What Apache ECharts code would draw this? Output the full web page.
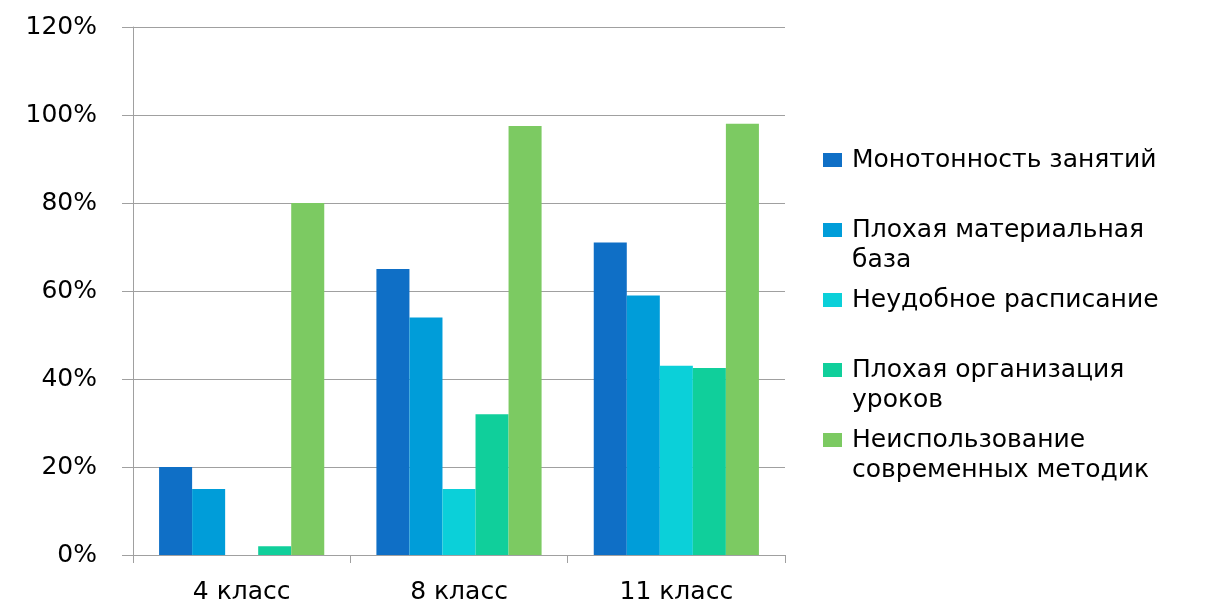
<!DOCTYPE html>
<html>
<head>
<meta charset="utf-8">
<script src="https://cdn.jsdelivr.net/npm/echarts@6/dist/echarts.min.js"></script>
<style>
html, body { margin: 0; padding: 0; background: #fff; }
#chart { width: 1226px; height: 606px; }
</style>
</head>
<body>
<div id="chart"></div>
<script>
var categories = ['4 класс', '8 класс', '11 класс'];
var seriesNames = [
	'Монотонность занятий',
	'Плохая материальная база',
	'Неудобное расписание',
	'Плохая организация уроков',
	'Неиспользование современных методик'
];
// подписи легенды по строкам
var legendLines = [
	['Монотонность занятий'],
	['Плохая материальная', 'база'],
	['Неудобное расписание'],
	['Плохая организация', 'уроков'],
	['Неиспользование', 'современных методик']
];
var monotony = [20, 65, 71];
var badBase = [15, 54, 59];
var badSchedule = [0, 15, 43];
var badOrganization = [2, 32, 42.5];
var noModernMethods = [80, 97.5, 98];
var colors = ['#0f6fc6', '#009dd9', '#0bd0d9', '#10cf9b', '#7cca62'];

var font = 'DejaVu Sans';
var values = [monotony, badBase, badSchedule, badOrganization, noModernMethods];

var series = [];
var legends = [];
for (var i = 0; i < seriesNames.length; i++) {
	series.push({
		name: seriesNames[i],
		type: 'bar',
		barGap: 0,
		barCategoryGap: '24%',
		itemStyle: { color: colors[i] },
		data: values[i]
	});
	legends.push({
		data: [seriesNames[i]],
		left: 823,
		top: 160 + i * 70 - 45,
		padding: 0,
		itemWidth: 19,
		itemHeight: 14,
		icon: 'rect',
		selectedMode: false,
		formatter: (function (lines) {
			return function () {
				return '\n' + lines[0] + '\n' + (lines[1] || '');
			};
		})(legendLines[i]),
		textStyle: { fontFamily: font, fontSize: 25, lineHeight: 30, color: '#000', padding: [0, 0, 0, 5] }
	});
}

var myChart = echarts.init(document.getElementById('chart'));
var option = {
	backgroundColor: '#fff',
	animation: false,
	grid: { left: 133, right: 441, top: 27, bottom: 51 },
	legend: legends,
	xAxis: {
		type: 'category',
		data: categories,
		axisLine: { show: true, lineStyle: { color: '#a0a0a0', width: 1 } },
		axisTick: { show: true, length: 8, lineStyle: { color: '#a0a0a0' } },
		axisLabel: { fontFamily: font, fontSize: 25, color: '#000', margin: 25 }
	},
	yAxis: {
		type: 'value',
		min: 0,
		max: 120,
		interval: 20,
		axisLine: { show: true, lineStyle: { color: '#a0a0a0', width: 1 } },
		axisTick: { show: true, length: 11, lineStyle: { color: '#a0a0a0' } },
		splitLine: { show: true, lineStyle: { color: '#a0a0a0', width: 1 } },
		axisLabel: {
			fontFamily: font, fontSize: 25, color: '#000', margin: 36,
			formatter: '{value}%'
		}
	},
	series: series
};
myChart.setOption(option);
</script>
</body>
</html>
